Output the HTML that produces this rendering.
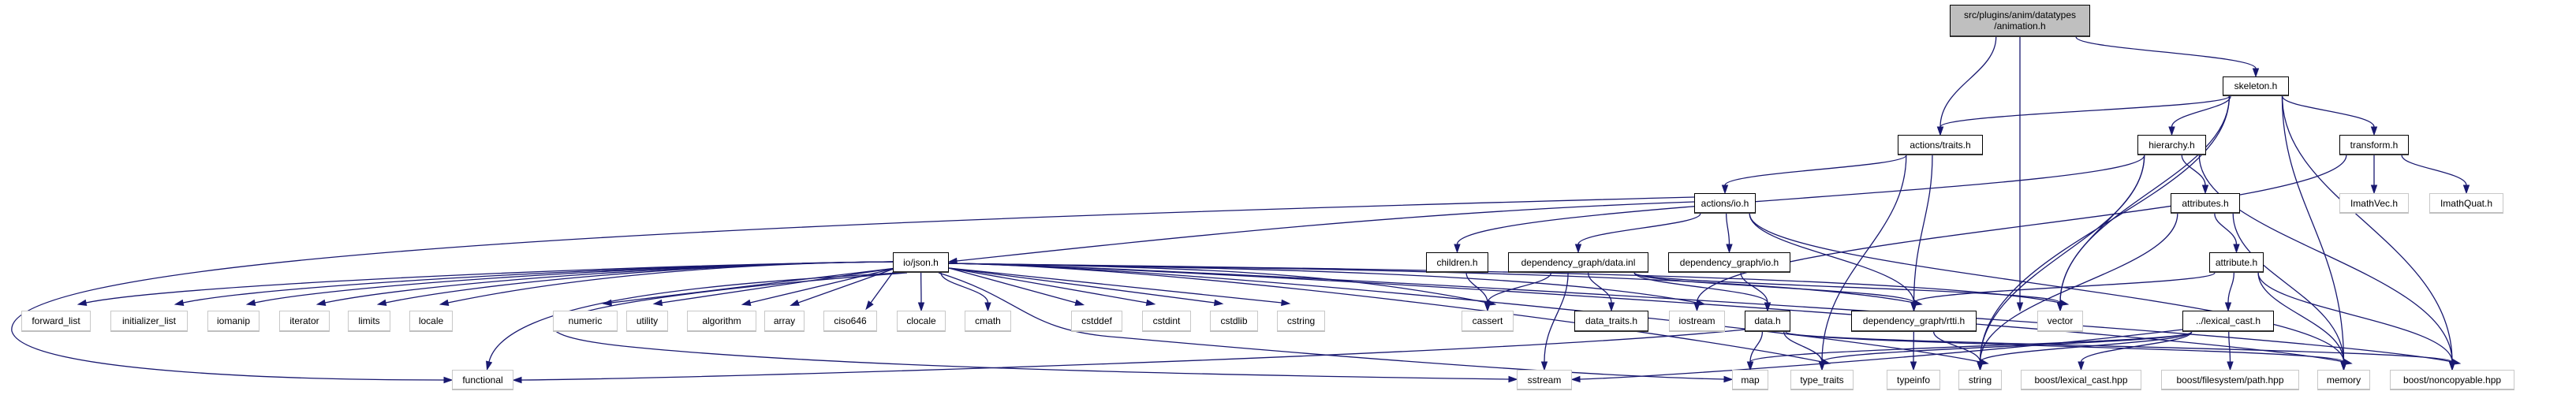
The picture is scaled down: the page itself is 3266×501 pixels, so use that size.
<!DOCTYPE html>
<html><head><meta charset="utf-8">
<style>
body{margin:0;background:#fff;width:3266px;height:501px;overflow:hidden;position:relative;font-family:"Liberation Sans",sans-serif}
.n{position:absolute;box-sizing:border-box;display:flex;align-items:center;justify-content:center;text-align:center;font-size:12px;line-height:14px;color:#000;background:#fff;white-space:nowrap}
.b{border:1px solid #000;border-bottom:2px solid #333}
.g{border:1px solid #c8c8c8;border-bottom:2px solid #c0c0c0}
.m{background:#bfbfbf;border:1px solid #000;border-bottom:2px solid #333}
svg{position:absolute;left:0;top:0}
</style></head><body>
<svg id="s" width="3266" height="501" viewBox="0 0 3266 501"></svg>
<div id="nodes"></div>
<script>
var N={
anim:[2472,6,178,41,'m','src/plugins/anim/datatypes<br>/animation.h'],
skel:[2818,97,84,25,'b','skeleton.h'],
traits:[2406,171,108,26,'b','actions/traits.h'],
hier:[2710,171,87,26,'b','hierarchy.h'],
transf:[2966,171,88,26,'b','transform.h'],
io:[2148,245,78,26,'b','actions/io.h'],
attrs:[2752,245,88,26,'b','attributes.h'],
ivec:[2966,245,88,26,'g','ImathVec.h'],
iquat:[3080,245,94,26,'g','ImathQuat.h'],
json:[1132,320,71,26,'b','io/json.h'],
children:[1808,320,79,26,'b','children.h'],
datainl:[1912,320,178,26,'b','dependency_graph/data.inl'],
depio:[2115,320,155,26,'b','dependency_graph/io.h'],
attr:[2801,320,69,26,'b','attribute.h'],
fl:[27,394,88,27,'g','forward_list'],
il:[140,394,98,27,'g','initializer_list'],
iomanip:[263,394,66,27,'g','iomanip'],
iterator:[354,394,64,27,'g','iterator'],
limits:[441,394,54,27,'g','limits'],
locale:[519,394,55,27,'g','locale'],
numeric:[701,394,82,27,'g','numeric'],
utility:[794,394,53,27,'g','utility'],
algorithm:[871,394,88,27,'g','algorithm'],
array:[969,394,51,27,'g','array'],
ciso646:[1044,394,68,27,'g','ciso646'],
clocale:[1137,394,62,27,'g','clocale'],
cmath:[1223,394,59,27,'g','cmath'],
cstddef:[1358,394,65,27,'g','cstddef'],
cstdint:[1448,394,62,27,'g','cstdint'],
cstdlib:[1534,394,61,27,'g','cstdlib'],
cstring:[1619,394,61,27,'g','cstring'],
cassert:[1853,394,66,27,'g','cassert'],
dtraits:[1996,394,94,27,'b','data_traits.h'],
iostream:[2116,394,71,27,'g','iostream'],
datah:[2212,394,58,27,'b','data.h'],
rtti:[2347,394,159,27,'b','dependency_graph/rtti.h'],
vector:[2583,394,58,27,'g','vector'],
lexcast:[2767,394,116,27,'b','../lexical_cast.h'],
functional:[573,469,78,26,'g','functional'],
sstream:[1923,469,70,26,'g','sstream'],
map:[2196,469,46,26,'g','map'],
tt:[2270,469,80,26,'g','type_traits'],
typeinfo:[2392,469,68,26,'g','typeinfo'],
string:[2483,469,55,26,'g','string'],
blc:[2562,469,153,26,'g','boost/lexical_cast.hpp'],
bfp:[2740,469,175,26,'g','boost/filesystem/path.hpp'],
memory:[2938,469,67,26,'g','memory'],
noncopy:[3030,469,158,26,'g','boost/noncopyable.hpp']
};
var h='';
for(var k in N){var a=N[k];h+='<div class="n '+a[4]+'" style="left:'+a[0]+'px;top:'+a[1]+'px;width:'+a[2]+'px;height:'+a[3]+'px">'+a[5]+'</div>';}
document.getElementById('nodes').innerHTML=h;
var E=[['anim','traits'],['anim','skel'],['skel','traits'],['skel','hier'],['skel','transf'],['skel','vector'],['skel','string'],['skel','memory'],['skel','noncopy'],
['traits','io'],['traits','tt'],['traits','rtti'],['hier','children'],['hier','attrs'],['hier','vector'],['hier','string'],['hier','noncopy'],
['transf','ivec'],['transf','iquat'],['transf','iostream'],['io','datainl'],['io','depio'],['io','rtti'],['io','memory'],
['attrs','attr'],['attrs','string'],['attrs','memory'],['attr','lexcast'],['attr','rtti'],['attr','memory'],['attr','noncopy'],
['lexcast','blc'],['lexcast','bfp'],['lexcast','string'],['lexcast','tt'],['lexcast','map'],['children','cassert'],
['datainl','cassert'],['datainl','dtraits'],['datainl','datah'],['datainl','rtti'],['datainl','sstream'],['datainl','vector'],
['depio','datah'],['datah','map'],['datah','tt'],['datah','memory'],['datah','noncopy'],['rtti','typeinfo'],['rtti','string'],
['json','fl'],['json','il'],['json','iomanip'],['json','iterator'],['json','limits'],['json','locale'],['json','numeric'],['json','utility'],['json','algorithm'],['json','array'],['json','ciso646'],['json','clocale'],['json','cmath'],['json','cstddef'],['json','cstdint'],['json','cstdlib'],['json','cstring'],['json','functional'],['json','cassert'],['json','iostream'],['json','vector'],['json','string'],['json','memory'],['json','tt'],['json','noncopy'],['json','rtti']];
var P=[
'M2561,47 L2561,384',
'M2148,256 C1800,268 1500,300 1213,331',
'M2148,250 C1000,280 0,320 15,420 C30,475 400,482 563,482',
'M1150,346 C700,380 600,420 800,440 C1100,470 1700,478 1913,481',
'M1190,346 C1300,380 1300,420 1420,428 C1800,462 2050,478 2186,481',
'M2212,418 C1900,450 900,480 661,482',
'M2767,418 C2500,450 2100,478 2003,481'
];
function cx(a){return a[0]+a[2]/2}
E.forEach(function(e){
 var s=N[e[0]],t=N[e[1]];
 var ex=cx(t),ey=t[1]-10;
 var sx=cx(s),sy=s[1]+s[3];
 if(e[0]=='json'){
  if(e[1]=='functional'){P.push('M1140,346 C900,360 640,380 620,459');return;}
  if(t[1]>=394&&(ex>1700||e[1]=='cassert')){sx=1203;sy=334;
   P.push('M'+sx+','+sy+' C'+(sx+300)+','+(sy+5)+' '+(ex-200)+','+(ey-40)+' '+ex+','+ey);return;}
  if(ex<650){var tx=t[0]+t[2]-6;sx=1132;sy=332;
   P.push('M'+sx+','+sy+' C'+(sx-250)+','+(sy+2)+' '+(tx+120)+','+(ey-25)+' '+tx+','+ey);return;}
  if(ex<1130){var tx3=t[0]+t[2]-8;sx=1136;sy=340;
   P.push('M'+sx+','+sy+' L'+tx3+','+ey);return;}
  if(ex>1290){var tx2=t[0]+6;sx=1203;sy=340;
   P.push('M'+sx+','+sy+' L'+tx2+','+ey);return;}
 }
 var off=(ex-sx)*0.3,lim=s[2]*0.4;off=Math.max(-lim,Math.min(lim,off));sx+=off;
 var dy=ey-sy;
 P.push('M'+sx+','+sy+' C'+sx+','+(sy+dy*0.4)+' '+ex+','+(ey-dy*0.45)+' '+ex+','+ey);
});
var svg='';
P.forEach(function(d){
 svg+='<path d="'+d+'" fill="none" stroke="#191970" stroke-width="1.3"/>';
 var nums=d.match(/-?[\d.]+/g).map(Number);var n=nums.length;
 var x1=nums[n-2],y1=nums[n-1],x0=nums[n-4],y0=nums[n-3];
 var dx=x1-x0,dy=y1-y0,L=Math.sqrt(dx*dx+dy*dy)||1;dx/=L;dy/=L;
 var tx=x1+dx*10,ty=y1+dy*10,px=-dy*3.5,py=dx*3.5;
 svg+='<polygon points="'+tx+','+ty+' '+(x1+px)+','+(y1+py)+' '+(x1-px)+','+(y1-py)+'" fill="#191970" stroke="#191970"/>';
});
document.getElementById('s').innerHTML=svg;
</script>
</body></html>
